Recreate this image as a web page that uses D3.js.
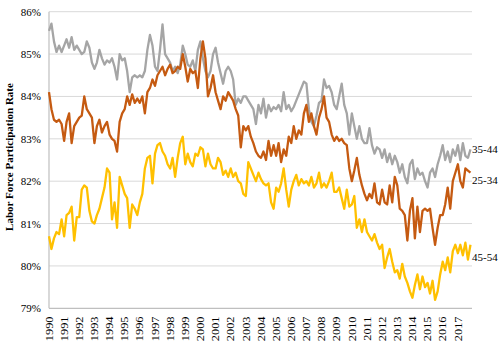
<!DOCTYPE html>
<html><head><meta charset="utf-8">
<script src="https://cdn.jsdelivr.net/npm/d3@7"></script>
<style>
body{margin:0;background:#fff}
svg{display:block}
text{font-family:"Liberation Serif","Times New Roman",serif;fill:#000}
</style>
</head><body>
<svg id="c" width="500" height="350"></svg>
<script>
// Tick labels
const yearTicks = d3.range(1990, 2018);
const pctTicks = [79, 80, 81, 82, 83, 84, 85, 86];
const seriesNames = ["35-44", "25-34", "45-54"];

// Bimonthly readings (Jan, Mar, May, Jul, Sep, Nov), 1990–2017
const age3544 = [
85.55,85.72,85.3,85.05,85.2,85.05, 85.2,85.35,85.15,85.4,85.1,85.2,
85.1,85.0,85.05,85.3,85.15,84.8, 84.65,84.8,85.1,84.9,84.75,84.85,
84.8,84.9,84.7,84.4,85.0,84.85, 84.9,84.6,84.1,84.45,84.5,84.45,
84.5,84.45,84.6,85.1,85.45,85.2, 84.7,84.6,85.1,85.7,85.0,84.9,
84.8,84.6,84.7,84.55,84.75,85.2, 85.0,84.75,84.7,84.85,84.6,85.1,
85.3,84.9,84.6,84.45,84.6,85.0, 85.15,84.8,84.55,84.3,84.6,84.7,
84.6,84.4,83.8,83.95,83.85,84.0, 84.0,83.9,83.8,83.7,83.35,83.8,
83.6,83.95,83.5,83.8,83.65,83.75, 83.7,83.8,83.65,84.1,83.7,83.8,
83.65,83.75,83.9,84.05,84.2,84.35, 84.3,83.7,83.4,83.3,83.55,83.85,
83.9,84.4,84.2,84.25,84.1,83.8, 83.7,84.0,84.3,83.8,83.6,83.1,
83.6,83.3,83.0,83.3,83.0,82.9, 82.9,83.25,82.85,82.65,82.8,82.75,
82.55,82.75,82.45,82.65,82.4,82.6, 82.45,82.2,82.4,82.1,81.95,82.4,
82.5,82.05,82.3,82.15,82.2,82.0, 81.85,82.2,82.3,82.1,82.4,82.6,
82.85,82.5,82.7,82.45,82.75,82.6, 82.85,82.5,82.9,82.6,82.55,82.75
];
const age2534 = [
84.1,83.7,83.45,83.4,83.45,83.35, 82.95,83.4,83.6,82.9,83.3,83.4,
83.5,83.55,84.0,83.7,83.6,83.5, 82.9,83.3,83.45,83.15,83.3,83.4,
83.1,83.0,82.95,82.7,83.4,83.6, 83.7,84.0,83.8,84.05,83.85,83.95,
83.85,84.0,83.6,84.1,84.2,84.4, 84.25,84.5,84.6,84.7,84.5,84.65,
84.75,84.55,84.6,84.7,84.65,85.0, 84.7,84.35,84.65,84.55,84.6,84.2,
84.9,85.3,84.9,84.0,84.2,84.5, 84.1,83.9,83.7,84.0,83.9,84.1,
84.0,83.9,83.7,83.55,82.8,83.3, 83.2,83.3,83.05,82.9,82.7,82.6,
82.55,82.7,82.5,82.95,82.6,82.85, 82.6,82.9,82.45,82.75,82.6,83.05,
82.9,83.3,83.0,83.2,83.1,83.6, 83.8,83.4,83.6,83.3,83.1,83.5,
83.7,84.0,83.5,83.4,83.1,82.95, 83.05,82.95,83.0,82.9,82.85,82.3,
82.0,82.25,82.55,82.15,81.9,81.7, 81.55,81.7,81.6,81.95,81.5,81.45,
81.8,81.5,81.45,81.9,81.5,82.1, 81.9,81.35,81.3,81.2,80.6,81.3,
81.6,80.65,81.4,80.8,81.3,81.35, 81.3,81.35,80.9,80.5,80.9,81.2,
81.2,81.45,81.85,81.35,82.0,82.2, 82.4,82.0,81.85,82.3,82.25,82.2
];
const age4554 = [
80.7,80.4,80.65,80.8,80.75,81.1, 80.7,81.2,81.25,81.4,80.6,81.15,
81.15,81.8,81.9,81.85,81.3,81.05, 81.0,81.2,81.35,81.6,81.85,82.3,
82.2,81.1,81.5,80.9,82.1,81.9, 81.7,81.6,80.9,81.45,81.35,81.2,
81.5,81.7,82.3,82.55,82.6,81.95, 82.65,82.85,82.9,82.7,82.6,82.4,
82.3,82.55,82.1,82.55,82.9,83.05, 82.4,82.65,82.45,82.35,82.65,82.6,
82.8,82.75,82.35,82.65,82.4,82.3, 82.3,82.55,82.45,82.15,82.25,82.1,
82.3,82.1,82.2,82.0,81.95,81.7, 81.65,82.45,82.3,82.15,82.0,82.2,
82.05,81.95,81.9,81.95,81.5,81.35, 81.85,81.75,81.95,82.3,81.8,81.4,
81.8,82.0,82.15,81.9,82.05,81.95, 82.0,81.9,82.1,81.85,81.95,82.2,
81.85,81.95,81.85,82.0,82.2,81.75, 81.75,81.85,81.6,81.35,81.8,81.4,
81.45,81.65,80.9,81.1,80.8,81.1, 80.8,80.7,80.6,80.75,80.55,80.4,
80.5,79.95,80.2,80.4,80.1,79.85, 79.9,79.7,80.05,79.75,79.6,79.4,
79.25,79.55,79.8,79.45,79.75,79.5, 79.6,79.35,79.65,79.2,79.4,79.8,
80.1,79.9,80.2,79.85,80.35,80.5, 80.3,80.5,80.25,80.55,80.15,80.5
];

const dates = age3544.map((_, i) => new Date(1990, i * 2, 1));
const colors = ["#a5a5a5", "#c55a11", "#ffc000"];
const seriesVals = [age3544, age2534, age4554];
const labelY = [82.75, 82.03, 80.2];

const svg = d3.select("#c");
const x = d3.scaleTime().domain([new Date(1990,0,1), new Date(2018,0,1)]).range([49, 473]);
const y = d3.scaleLinear().domain([79, 86]).range([308.3, 11.7]);

// gridlines
svg.append("g").selectAll("line").data(pctTicks.slice(1)).join("line")
  .attr("x1", 49).attr("x2", 472)
  .attr("y1", d => y(d)).attr("y2", d => y(d))
  .attr("stroke", "#d9d9d9").attr("stroke-width", 1);

// axes lines
svg.append("line").attr("x1", 49).attr("x2", 49).attr("y1", y(86)).attr("y2", y(79))
  .attr("stroke", "#bfbfbf").attr("stroke-width", 1.2);
svg.append("line").attr("x1", 49).attr("x2", 472).attr("y1", y(79)).attr("y2", y(79))
  .attr("stroke", "#bfbfbf").attr("stroke-width", 1.2);

// y tick labels
svg.append("g").selectAll("text").data(pctTicks).join("text")
  .attr("x", 41).attr("y", d => y(d)).attr("text-anchor", "end")
  .attr("dominant-baseline", "central").attr("font-size", 11)
  .text(d => d + "%");

// x tick labels
svg.append("g").selectAll("text").data(yearTicks).join("text")
  .attr("transform", d => `translate(${x(new Date(d,0,1))},316.5) rotate(-90) scale(1.18,1)`)
  .attr("text-anchor", "end").attr("dominant-baseline", "central")
  .attr("font-size", 10.5)
  .text(d => d);

// y title
svg.append("text")
  .attr("transform", "translate(13,157) rotate(-90)")
  .attr("text-anchor", "middle").attr("font-size", 11).attr("font-weight", "bold")
  .text("Labor Force Participation Rate");

// lines
const line = d3.line().x((d, i) => x(dates[i])).y(d => y(d));
seriesVals.forEach((vals, k) => {
  svg.append("path").datum(vals).attr("d", line)
    .attr("fill", "none").attr("stroke", colors[k]).attr("stroke-width", 2.3)
    .attr("stroke-linejoin", "round");
});

// series labels
svg.append("g").selectAll("text").data(seriesNames).join("text")
  .attr("x", 472).attr("y", (d, i) => y(labelY[i]))
  .attr("dominant-baseline", "central").attr("font-size", 11)
  .text(d => d);
</script>
</body></html>
